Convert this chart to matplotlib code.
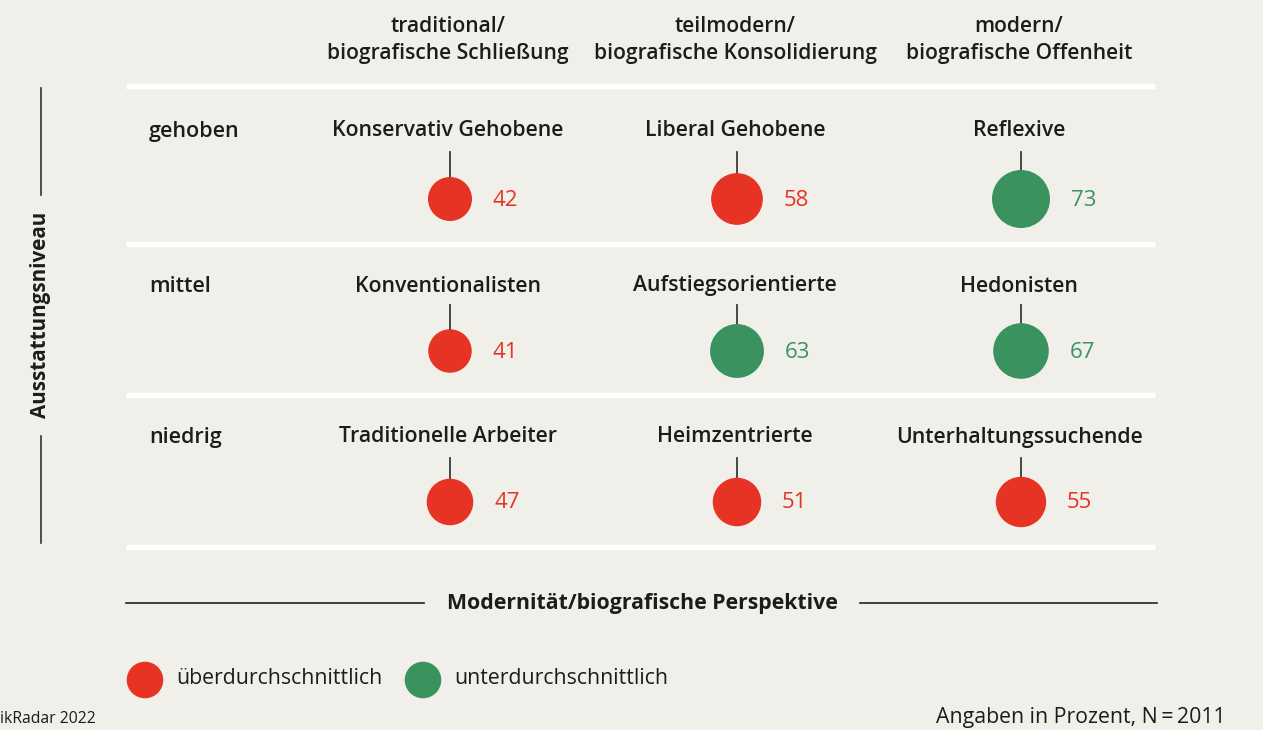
import matplotlib
matplotlib.use("Agg")
import matplotlib.pyplot as plt
import numpy as np

# --- data -------------------------------------------------------------
column_headers = ["traditional/\nbiografische Schließung",
                  "teilmodern/\nbiografische Konsolidierung",
                  "modern/\nbiografische Offenheit"]
row_labels = ["gehoben", "mittel", "niedrig"]
segments = [["Konservativ Gehobene", "Liberal Gehobene", "Reflexive"],
            ["Konventionalisten", "Aufstiegsorientierte", "Hedonisten"],
            ["Traditionelle Arbeiter", "Heimzentrierte", "Unterhaltungssuchende"]]
values = [[42, 58, 73],
          [41, 63, 67],
          [47, 51, 55]]
above_average = [[True, True, False],
                 [True, False, False],
                 [True, True, True]]
legend_labels = ["überdurchschnittlich", "unterdurchschnittlich"]
y_axis_title = "Ausstattungsniveau"
x_axis_title = "Modernität/biografische Perspektive"
note = "Angaben in Prozent, N\u2009=\u20092011"
source = "ikRadar 2022"

# --- style ------------------------------------------------------------
BG = "#f0efea"
RED = "#e63323"
GREEN = "#3a935f"
INK = "#1c1c1c"
FONT = "Open Sans"
plt.rcParams["font.family"] = [FONT, "DejaVu Sans"]
FS = 15.3

W, H, DPI = 1263, 730, 100
fig = plt.figure(figsize=(W / DPI, H / DPI), dpi=DPI, facecolor=BG)
ax = fig.add_axes([0, 0, 1, 1])
ax.set_xlim(0, W)
ax.set_ylim(H, 0)
ax.axis("off")
ax.set_facecolor(BG)

# layout (pixel grid)
col_x = [450, 737, 1021]
circle_y = [199, 351, 502]
label_y = [131, 286, 437]
stem_top = [152, 305, 458]
grid_y = [86, 244, 395, 547]
SIZE_SCALE = 23.9   # marker area (pt^2) per percent point

# white separator rules
for gy in grid_y:
    ax.plot([126, 1155], [gy, gy], color="white", lw=3.8, solid_capstyle="butt", zorder=1)

# column headers
for cx, txt in zip(col_x, column_headers):
    ax.text(cx - 2, 40, txt, ha="center", va="center", fontsize=15.1,
            fontweight="semibold", color=INK, linespacing=1.34)

# row labels
for ry, txt in zip(label_y, row_labels):
    ax.text(149, ry, txt, ha="left", va="center", fontsize=15.5,
            fontweight="semibold", color=INK)

# segment bubbles
for r in range(3):
    for c in range(3):
        v = values[r][c]
        col = RED if above_average[r][c] else GREEN
        cx, cy = col_x[c], circle_y[r]
        ax.text(cx - 2, label_y[r], segments[r][c], ha="center", va="center",
                fontsize=FS, fontweight="semibold", color=INK)
        ax.plot([cx, cx], [stem_top[r], cy], color="#3a3a3a", lw=1.3, zorder=2)
        ax.scatter([cx], [cy], s=SIZE_SCALE * v, color=col, edgecolors="none", zorder=3)
        radius_pt = np.sqrt(SIZE_SCALE * v) / 2
        ax.annotate(str(v), (cx, cy + 1), xytext=(radius_pt + 15, 0),
                    textcoords="offset points", ha="left", va="center",
                    fontsize=16, color=col)

# vertical axis title with rules
ax.plot([41, 41], [88, 195], color="#333333", lw=1.2)
ax.plot([41, 41], [436, 543], color="#333333", lw=1.2)
ax.text(41, 315, y_axis_title, rotation=90, ha="center", va="center",
        fontsize=14.85, fontweight="bold", color=INK)

# horizontal axis title with rules
ax.plot([126, 424], [603, 603], color="#222222", lw=1.2)
ax.plot([860, 1157], [603, 603], color="#222222", lw=1.2)
ax.text(642, 604, x_axis_title, ha="center", va="center",
        fontsize=FS, fontweight="bold", color=INK)

# legend
ax.scatter([145], [680], s=SIZE_SCALE * 29, color=RED, edgecolors="none")
ax.text(176, 678, legend_labels[0], ha="left", va="center", fontsize=FS, color=INK)
ax.scatter([423], [680], s=SIZE_SCALE * 29, color=GREEN, edgecolors="none")
ax.text(454, 678, legend_labels[1], ha="left", va="center", fontsize=FS, color=INK)

# footer
ax.text(0, 719, source, ha="left", va="center", fontsize=11.3, color=INK)
ax.text(1226, 717, note, ha="right", va="center", fontsize=FS, color=INK)

fig.savefig("out.png", dpi=DPI, facecolor=BG)
